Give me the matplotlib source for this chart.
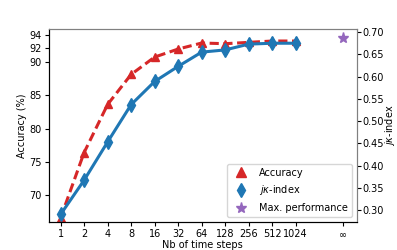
import matplotlib
matplotlib.use('Agg')
import matplotlib.pyplot as plt
from matplotlib.lines import Line2D

# === Données ===
steps = ['1', '2', '4', '8', '16', '32', '64', '128', '256', '512', '1024']
accuracy = [66.6, 76.4, 83.6, 88.1, 90.7, 91.9, 92.8, 92.7, 92.9, 93.1, 93.1]
jk_index = [0.290, 0.367, 0.453, 0.537, 0.589, 0.623, 0.655, 0.660, 0.673, 0.675, 0.675]
max_jk = 0.686
inf_label = '$\\infty$'

acc_ticks = [70, 75, 80, 85, 90, 92, 94]
jk_ticks = [0.30, 0.35, 0.40, 0.45, 0.50, 0.55, 0.60, 0.65, 0.70]

x = list(range(len(steps)))
x_inf = len(steps) + 1

fig = plt.figure(figsize=(3.97, 2.5), dpi=100)
ax = fig.add_axes([0.123, 0.112, 0.776, 0.772])
ax2 = ax.twinx()

# Courbe précision (axe gauche)
ax.plot(x, accuracy, color='tab:red', linestyle='--', linewidth=2.2,
        marker='^', markersize=6, dashes=(3, 1.5))
# Courbe jk-index (axe droit)
ax2.plot(x, jk_index, color='tab:blue', linewidth=2.2,
         marker='d', markersize=7)
ax2.plot([x_inf], [max_jk], color='tab:purple', marker='*', markersize=8,
         linestyle='none')

ax.set_xlim(-0.5, 12.6)
ax.set_ylim(66.0, 94.9)
ax2.set_ylim(0.273, 0.707)

ax.set_xticks(x + [x_inf])
ax.set_xticklabels(steps + [inf_label])
ax.set_yticks(acc_ticks)
ax2.set_yticks(jk_ticks)
ax2.set_yticklabels([f'{v:.2f}' for v in jk_ticks])

ax.tick_params(labelsize=7, length=3, pad=2)
ax2.tick_params(labelsize=7, length=3, pad=1)

ax.set_xlabel('Nb of time steps', fontsize=7, labelpad=1)
ax.set_ylabel('Accuracy (%)', fontsize=7, labelpad=2)
ax2.set_ylabel('$j\\kappa$-index', fontsize=7, labelpad=-0.5)

for a in (ax, ax2):
    a.spines['top'].set_color('grey')
    a.spines['right'].set_color('grey')

handles = [
    Line2D([], [], color='tab:red', marker='^', linestyle='none', markersize=7),
    Line2D([], [], color='tab:blue', marker='d', linestyle='none', markersize=7),
    Line2D([], [], color='tab:purple', marker='*', linestyle='none', markersize=8),
]
ax2.legend(handles, ['Accuracy', '$j\\kappa$-index', 'Max. performance'],
           loc='lower right', fontsize=7, borderpad=0.4, labelspacing=0.6,
           handletextpad=0.9)

fig.savefig('out.png', dpi=100)
